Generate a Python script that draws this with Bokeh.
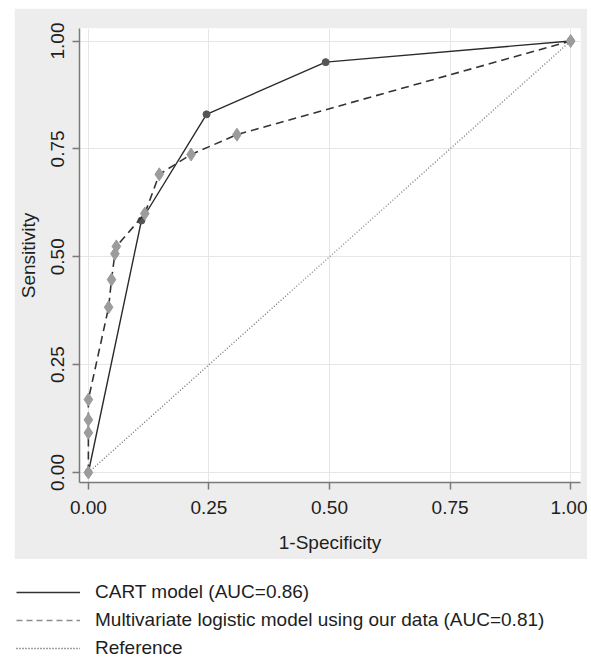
from bokeh.plotting import figure
from bokeh.models import Range1d, FixedTicker, PrintfTickFormatter, Legend, LegendItem, Spacer
from bokeh.layouts import column, row
from bokeh.embed import file_html
from bokeh.resources import INLINE

# ---- data ----
cart_x = [0.0, 0.110, 0.245, 0.492, 1.0]
cart_y = [0.0, 0.584, 0.830, 0.951, 1.0]
logit_x = [0.0, 0.0, 0.0, 0.0, 0.042, 0.048, 0.055, 0.058, 0.117, 0.147, 0.213, 0.308, 1.0]
logit_y = [0.0, 0.092, 0.122, 0.169, 0.383, 0.447, 0.507, 0.524, 0.600, 0.691, 0.737, 0.783, 1.0]
ref_x = [0.0, 1.0]
ref_y = [0.0, 1.0]
ticks = [0.0, 0.25, 0.5, 0.75, 1.0]
tick_labels = ["0.00", "0.25", "0.50", "0.75", "1.00"]
series_labels = ["CART model (AUC=0.86)",
                 "Multivariate logistic model using our data (AUC=0.81)",
                 "Reference"]
x_title = "1-Specificity"
y_title = "Sensitivity"

FONT = "Liberation Sans"
TXT = "#1e1e1e"
AX = "#7a7a7a"
BG = "#ededed"

p = figure(width=573, height=551,
           x_range=Range1d(-0.0184, 1.0204), y_range=Range1d(-0.0232, 1.029),
           output_backend="svg", toolbar_location=None,
           min_border_left=58, min_border_right=7, min_border_top=20, min_border_bottom=77)
p.background_fill_color = "white"
p.border_fill_color = BG
p.outline_line_color = None

for g in (p.xgrid, p.ygrid):
    g.ticker = FixedTicker(ticks=ticks)
    g.grid_line_color = "#e6e6e6"
    g.grid_line_width = 1

for ax in (p.xaxis, p.yaxis):
    ax.ticker = FixedTicker(ticks=ticks)
    ax.formatter = PrintfTickFormatter(format="%.2f")
    ax.axis_line_color = AX
    ax.axis_line_width = 1.5
    ax.major_tick_line_color = AX
    ax.major_tick_line_width = 1.5
    ax.major_tick_out = 7
    ax.major_tick_in = 0
    ax.minor_tick_line_color = None
    ax.major_label_text_font = FONT
    ax.major_label_text_font_size = "19px"
    ax.major_label_text_color = TXT
    ax.axis_label_text_font = FONT
    ax.axis_label_text_font_size = "19px"
    ax.axis_label_text_font_style = "normal"
    ax.axis_label_text_color = TXT

p.xaxis.axis_label = x_title
p.yaxis.axis_label = y_title
p.xaxis.major_label_standoff = 11
p.xaxis.axis_label_standoff = 15
p.yaxis.major_label_orientation = "vertical"
p.yaxis.major_label_standoff = 8
p.yaxis.axis_label_standoff = 10

# reference diagonal
p.line(ref_x, ref_y, line_color="#555555", line_width=1.1, line_dash="1 2")
# CART
p.line(cart_x, cart_y, line_color="#2b2b2b", line_width=1.4)
p.scatter(cart_x, cart_y, marker="circle", size=7, fill_color="#555555", line_color="#555555")
# logistic
p.line(logit_x, logit_y, line_color="#333333", line_width=1.6, line_dash="8 5")
p.scatter(logit_x, logit_y, marker="diamond", size=13, fill_color="#9c9c9c", line_color="#9c9c9c")

# ---- legend panel below ----
p2 = figure(width=591, height=102, x_range=Range1d(10, 11), y_range=Range1d(10, 11),
            output_backend="svg", toolbar_location=None,
            x_axis_type=None, y_axis_type=None,
            min_border_left=16, min_border_top=22, min_border_right=0, min_border_bottom=0)
p2.outline_line_color = None
p2.background_fill_color = "white"
p2.border_fill_color = "white"
p2.xgrid.visible = False
p2.ygrid.visible = False
r1 = p2.line(cart_x, cart_y, line_color="#333333", line_width=1.3)
r2 = p2.line(logit_x, logit_y, line_color="#8c8c8c", line_width=1.6, line_dash="6 4")
r3 = p2.line(ref_x, ref_y, line_color="#444444", line_width=1.4, line_dash="1 2")
legend = Legend(items=[LegendItem(label=series_labels[0], renderers=[r1]),
                       LegendItem(label=series_labels[1], renderers=[r2]),
                       LegendItem(label=series_labels[2], renderers=[r3])],
                location="top_left", orientation="vertical", margin=0, padding=0,
                spacing=6, glyph_width=64, glyph_height=18, label_height=18,
                label_standoff=15, label_text_font=FONT, label_text_font_size="19px",
                label_text_color=TXT, border_line_color=None, background_fill_alpha=0)
p2.add_layout(legend)

layout = column(Spacer(width=1, height=8), row(Spacer(width=14, height=1), p), p2)
open("out.html", "w").write(file_html(layout, INLINE))
